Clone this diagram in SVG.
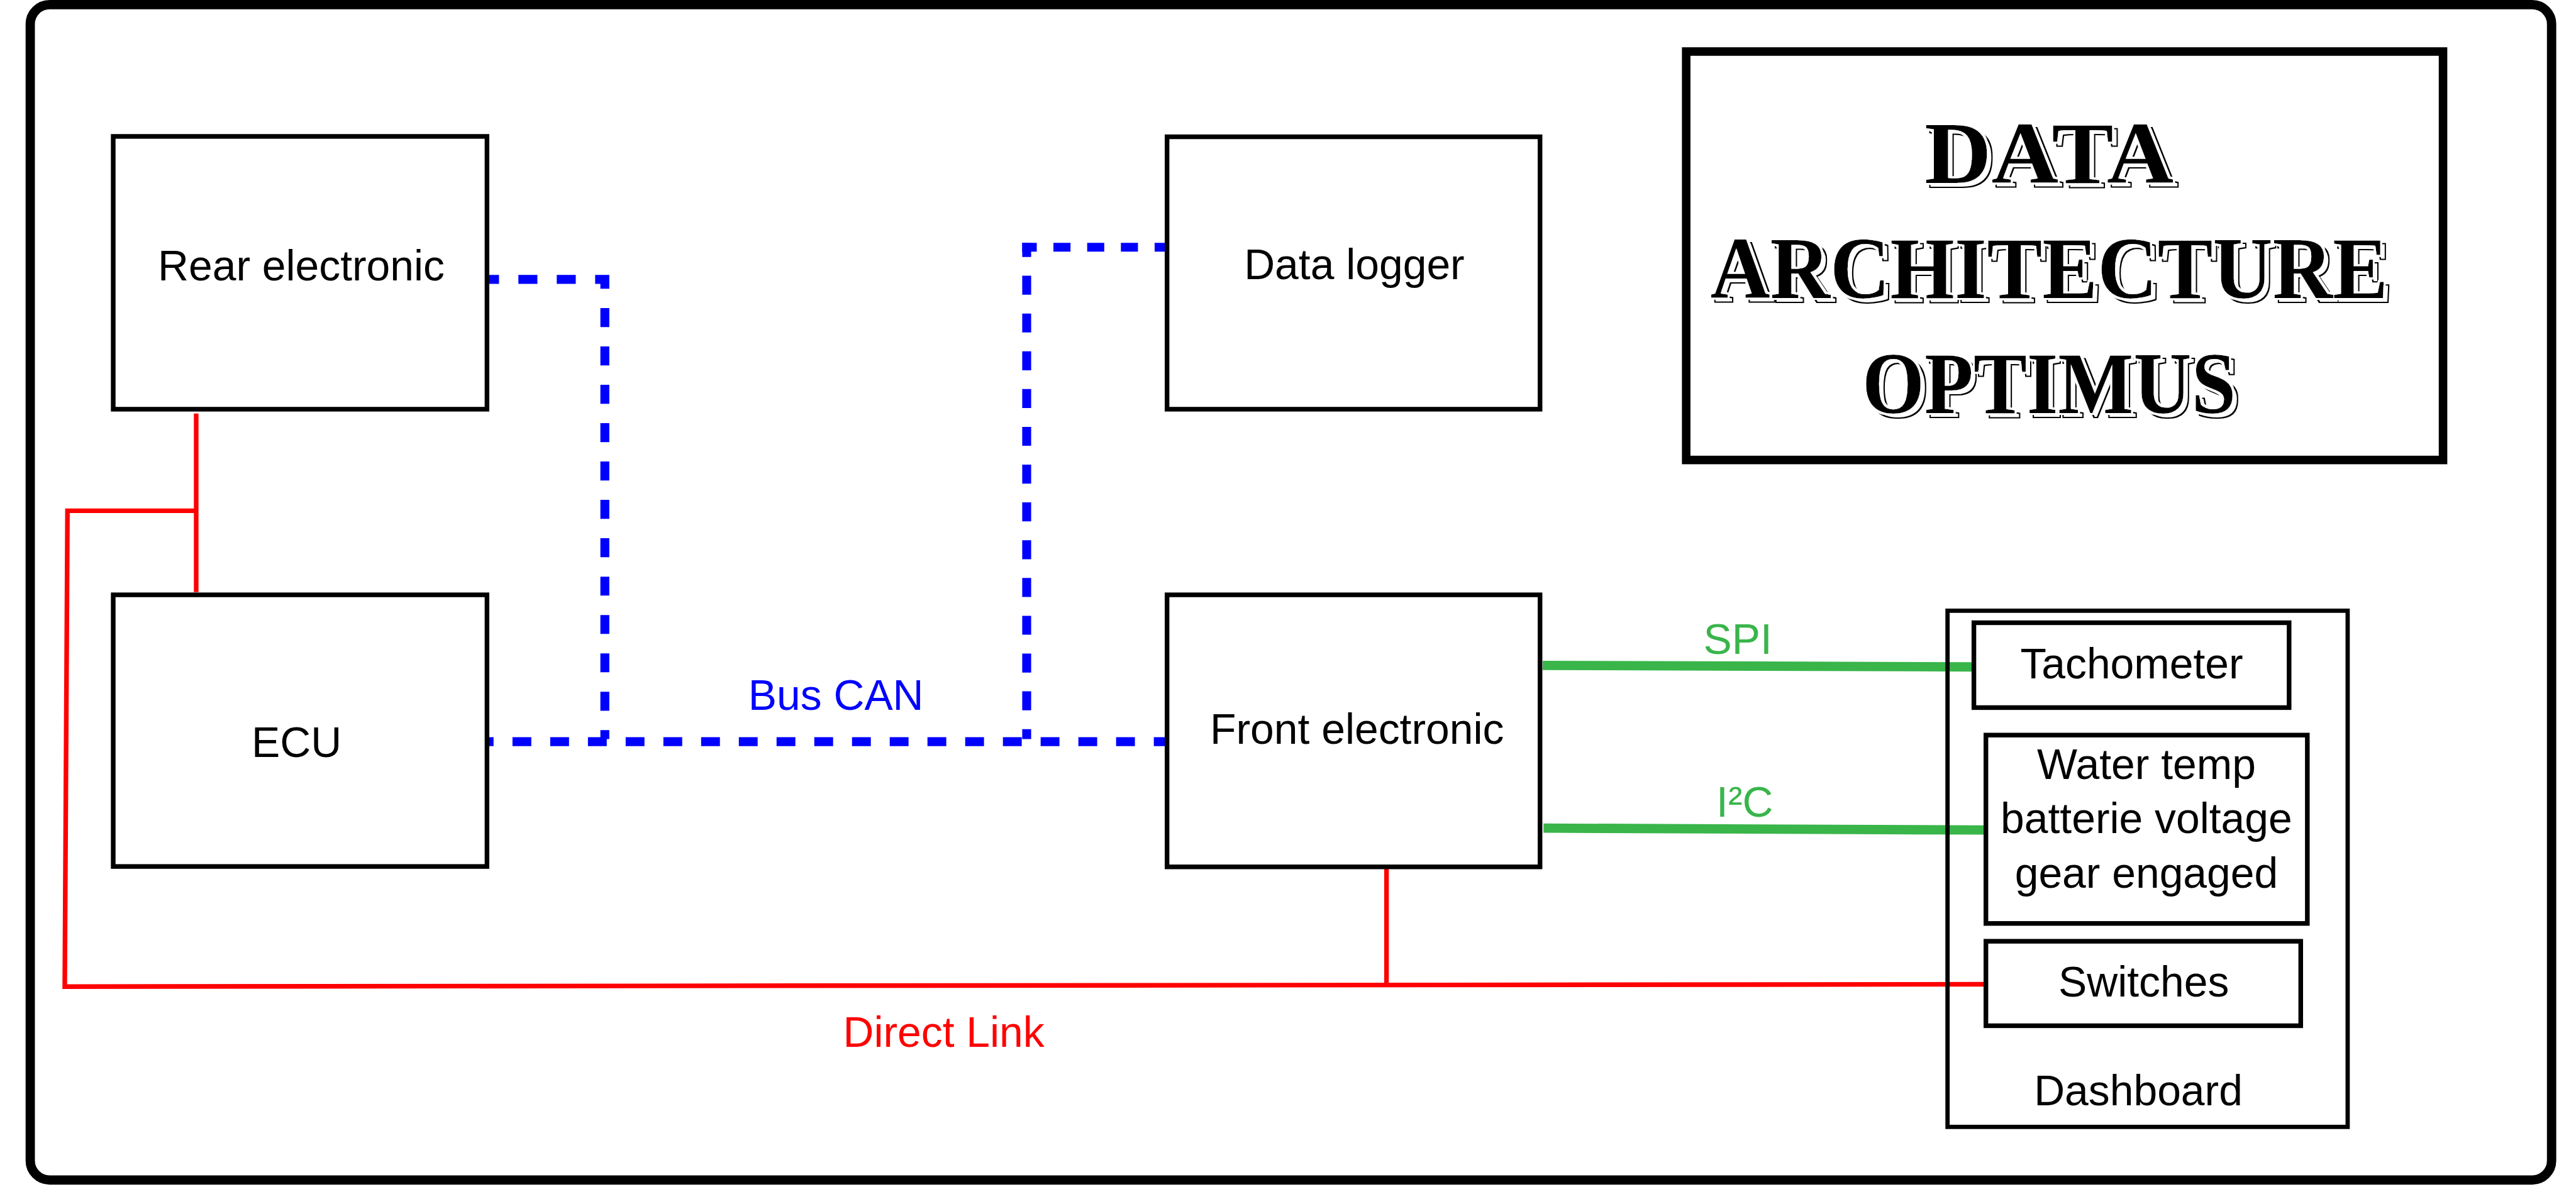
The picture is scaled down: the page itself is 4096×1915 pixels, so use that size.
<svg xmlns="http://www.w3.org/2000/svg" width="4096" height="1915" viewBox="0 0 4096 1915">
<style>
.box{fill:none;stroke:#000;stroke-width:12}
.lbl{font-family:"Liberation Sans",Arial,sans-serif;font-size:110px;text-anchor:middle;fill:#000}
.blue{fill:none;stroke:#0000ff;stroke-width:23;stroke-linecap:butt;stroke-linejoin:miter}
.red{fill:none;stroke:#ff0000;stroke-width:12;stroke-linejoin:miter}
.green{fill:none;stroke:#39b54a;stroke-width:24}
.title{font-family:"Liberation Serif","Times New Roman",serif;font-weight:bold;font-size:226px;text-anchor:middle;fill:#000}
</style>
<defs>
<filter id="shadow" x="-5%" y="-20%" width="115%" height="150%">
<feOffset in="SourceAlpha" dx="12" dy="10" result="off"/>
<feMorphology in="off" operator="dilate" radius="3" result="offd"/>
<feComposite in="offd" in2="off" operator="out" result="ring"/>
<feMorphology in="SourceAlpha" operator="dilate" radius="5" result="halo"/>
<feFlood flood-color="#ffffff" result="white"/>
<feComposite in="white" in2="halo" operator="in" result="whitehalo"/>
<feMerge><feMergeNode in="ring"/><feMergeNode in="whitehalo"/><feMergeNode in="SourceGraphic"/></feMerge>
</filter>
</defs>
<rect x="0" y="0" width="4096" height="1915" fill="#ffffff"/>
<g transform="scale(0.6165 0.61635)">
<rect id="frame" x="78" y="12" width="6503" height="3033" rx="50" ry="50" fill="none" stroke="#000" stroke-width="24"/>

<g id="connectors">
<path class="blue" d="M1262,721 H1560 V1907" stroke-dasharray="49 50" stroke-dashoffset="24"/>
<path class="blue" d="M3004,638 H2636.5" stroke-dasharray="44 43" stroke-dashoffset="18"/>
<path class="blue" d="M2648,626.5 V1907" stroke-dasharray="49 48.5" stroke-dashoffset="12.5"/>
<path class="blue" d="M1262,1914 H3004" stroke-dasharray="48.5 48.8" stroke-dashoffset="37.5"/>
<path class="red" d="M506,1067 V1528"/>
<path class="red" d="M506,1318 H174 L167,2546 L5118,2540"/>
<path class="red" d="M3576,2232 V2544"/>
<path class="green" d="M3979,1717 L5087,1721"/>
<path class="green" d="M3981,2137 L5118,2142"/>
<text x="2156" y="1831" class="lbl" fill="#0000ff" style="fill:#0000ff">Bus CAN</text>
<text x="2434" y="2702" class="lbl" style="fill:#ff0000">Direct Link</text>
<text x="4482" y="1687" class="lbl" style="fill:#39b54a">SPI</text>
<text x="4500" y="2108" class="lbl" style="fill:#39b54a">I²C</text>
</g>

<g id="rear-electronic">
<rect class="box" x="292" y="352" width="964" height="704"/>
<text class="lbl" x="777" y="724">Rear electronic</text>
</g>
<g id="ecu">
<rect class="box" x="292" y="1535" width="964" height="701"/>
<text class="lbl" x="765" y="1953">ECU</text>
</g>
<g id="data-logger">
<rect class="box" x="3010" y="353" width="962" height="703"/>
<text class="lbl" x="3493" y="721">Data logger</text>
</g>
<g id="front-electronic">
<rect class="box" x="3010" y="1535" width="962" height="702"/>
<text class="lbl" x="3500" y="1920">Front electronic</text>
</g>
<g id="dashboard">
<rect class="box" x="5023" y="1576" width="1032" height="1332" style="stroke-width:11"/>
<text class="lbl" x="5515" y="2852">Dashboard</text>
<g id="tachometer">
<rect class="box" x="5091" y="1607" width="813" height="219"/>
<text class="lbl" x="5498" y="1751">Tachometer</text>
</g>
<g id="sensors">
<rect class="box" x="5122" y="1897" width="829" height="486"/>
<text class="lbl" x="5536" y="2010">Water temp</text>
<text class="lbl" x="5536" y="2150">batterie voltage</text>
<text class="lbl" x="5536" y="2291">gear engaged</text>
</g>
<g id="switches">
<rect class="box" x="5122" y="2429" width="812" height="218"/>
<text class="lbl" x="5529" y="2572">Switches</text>
</g>
</g>
<g id="title">
<rect x="4349" y="133" width="1952" height="1054" fill="none" stroke="#000" stroke-width="22"/>
<g filter="url(#shadow)">
<text class="title" x="5285" y="472" textLength="643" lengthAdjust="spacingAndGlyphs">DATA</text>
<text class="title" x="5285" y="769" textLength="1748" lengthAdjust="spacingAndGlyphs">ARCHITECTURE</text>
<text class="title" x="5285" y="1066" textLength="964" lengthAdjust="spacingAndGlyphs">OPTIMUS</text>
</g>
</g>
</g>
</svg>
